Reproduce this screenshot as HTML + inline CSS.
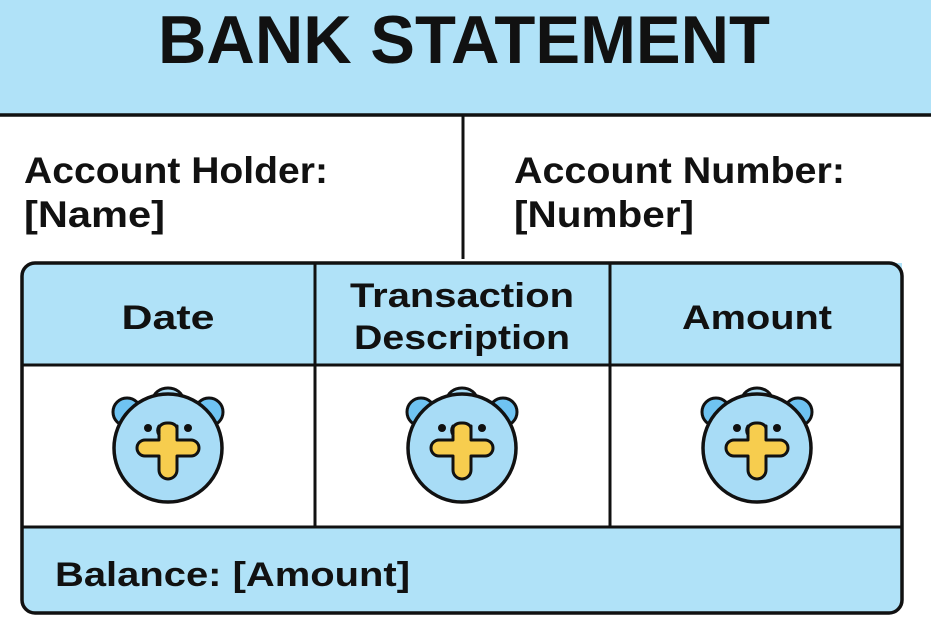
<!DOCTYPE html>
<html><head><style>html,body{margin:0;padding:0;background:#fff}svg{display:block}</style></head>
<body>
<svg width="931" height="631" viewBox="0 0 931 631" xmlns="http://www.w3.org/2000/svg" font-family="Liberation Sans, sans-serif" font-weight="bold">
<defs>
<g id="ic">
  <circle cx="-41" cy="-36" r="14" fill="#6fc3f2" stroke="#111" stroke-width="3"/>
  <circle cx="41" cy="-36" r="14" fill="#6fc3f2" stroke="#111" stroke-width="3"/>
  <ellipse cx="0" cy="-48" rx="15" ry="12" fill="#a8dcf6" stroke="#111" stroke-width="3"/>
  <circle cx="0" cy="0" r="54" fill="#a8dcf6" stroke="#111" stroke-width="3.5"/>
  <circle cx="-20" cy="-20" r="4" fill="#111"/>
  <circle cx="20" cy="-20" r="4" fill="#111"/>
  <path d="M-9,-22 h18 v14 h14 a7,7 0 0 1 0,16 h-14 v14 a9,9 0 0 1 -18,0 v-14 h-14 a7,7 0 0 1 0,-16 h14 v-5 a9,9 0 0 1 0,-9 z" fill="#f7cd4e" stroke="#111" stroke-width="3" stroke-linejoin="round"/>
  <rect x="-9" y="-25" width="18" height="12" rx="8" fill="#f7cd4e" stroke="#111" stroke-width="3"/>
  <rect x="-7.5" y="-19" width="15" height="12" fill="#f7cd4e"/>
</g>
</defs>
<rect x="0" y="0" width="931" height="115" fill="#b0e2f8"/>
<line x1="0" y1="115" x2="931" y2="115" stroke="#111" stroke-width="3.5"/>
<text x="464" y="63" font-size="68" text-anchor="middle" textLength="612" lengthAdjust="spacingAndGlyphs" fill="#111">BANK STATEMENT</text>
<line x1="463" y1="115" x2="463" y2="259" stroke="#111" stroke-width="3"/>
<text x="24" y="183" font-size="37" textLength="304" lengthAdjust="spacingAndGlyphs" fill="#111">Account Holder:</text>
<text x="24" y="227" font-size="37" textLength="141" lengthAdjust="spacingAndGlyphs" fill="#111">[Name]</text>
<text x="514" y="183" font-size="37" textLength="331" lengthAdjust="spacingAndGlyphs" fill="#111">Account Number:</text>
<text x="514" y="227" font-size="37" textLength="180" lengthAdjust="spacingAndGlyphs" fill="#111">[Number]</text>
<path d="M22,276 a13,13 0 0 1 13,-13 H902 V365 H22 Z" fill="#b0e2f8"/>
<path d="M22,527 H902 V600 a13,13 0 0 1 -13,13 H35 a13,13 0 0 1 -13,-13 Z" fill="#b0e2f8"/>
<rect x="22" y="263" width="880" height="350" rx="13" fill="none" stroke="#111" stroke-width="3.5"/>
<line x1="22" y1="365" x2="902" y2="365" stroke="#111" stroke-width="3"/>
<line x1="22" y1="527" x2="902" y2="527" stroke="#111" stroke-width="3"/>
<line x1="315" y1="263" x2="315" y2="527" stroke="#111" stroke-width="3"/>
<line x1="610" y1="263" x2="610" y2="527" stroke="#111" stroke-width="3"/>
<text x="168" y="329" font-size="34" text-anchor="middle" textLength="93" lengthAdjust="spacingAndGlyphs" fill="#111">Date</text>
<text x="462" y="307" font-size="34" text-anchor="middle" textLength="224" lengthAdjust="spacingAndGlyphs" fill="#111">Transaction</text>
<text x="462" y="349" font-size="34" text-anchor="middle" textLength="216" lengthAdjust="spacingAndGlyphs" fill="#111">Description</text>
<text x="757" y="329" font-size="34" text-anchor="middle" textLength="150" lengthAdjust="spacingAndGlyphs" fill="#111">Amount</text>
<text x="55" y="586" font-size="34" textLength="355" lengthAdjust="spacingAndGlyphs" fill="#111">Balance: [Amount]</text>
<use href="#ic" x="168" y="448"/>
<use href="#ic" x="462" y="448"/>
<use href="#ic" x="757" y="448"/>
</svg>
</body></html>
